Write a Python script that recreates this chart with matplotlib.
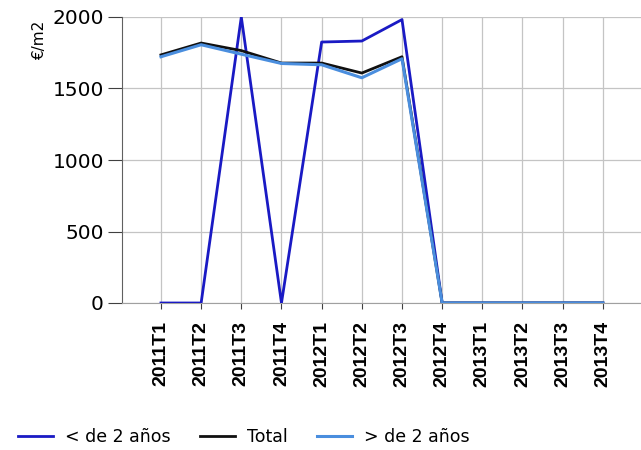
import numpy as np
import matplotlib.pyplot as plt

quarters = ['2011T1', '2011T2', '2011T3', '2011T4', '2012T1', '2012T2',
            '2012T3', '2012T4', '2013T1', '2013T2', '2013T3', '2013T4']
menos_2 = [0, 0, 2000, 0, 1825, 1832, 1982, 0, 0, 0, 0, 0]
total = [1735, 1818, 1765, 1678, 1678, 1608, 1722, 0, 0, 0, 0, 0]
mas_2 = [1722, 1806, 1740, 1675, 1666, 1575, 1708, 0, 0, 0, 0, 0]

fig = plt.figure(figsize=(6.41, 4.5), dpi=100)
ax = fig.add_axes([122 / 641, 1 - 303 / 450, (643 - 122) / 641, (303 - 17) / 450])

x = np.arange(len(quarters))
ax.plot(x, menos_2, color='#1a1ac4', lw=2.0, label='< de 2 años', zorder=3)
ax.plot(x, total, color='#101010', lw=2.0, label='Total', zorder=4)
ax.plot(x, mas_2, color='#4a8ede', lw=2.2, label='> de 2 años', zorder=5)

ax.set_xlim(-0.97, 12)
ax.set_ylim(0, 2000)
ax.set_yticks([0, 500, 1000, 1500, 2000])
ax.set_xticks(x)
ax.set_xticklabels(quarters, rotation=90, fontsize=14, fontweight='bold',
                   family='Liberation Sans')
ax.tick_params(axis='y', labelsize=14.5, length=10, color='#404040', pad=3)
ax.tick_params(axis='x', length=4, color='#404040', pad=9)
ax.grid(True, color='#c4c4c4', lw=0.9)
ax.set_axisbelow(True)
for side in ['top', 'right']:
    ax.spines[side].set_visible(False)
ax.spines['left'].set_color('#606060')
ax.spines['bottom'].set_color('#a0a0a0')

fig.text(40 / 641, 1 - 40 / 450, '€/m2', rotation=90, fontsize=11,
         ha='center', va='center')

fig.legend(loc='center left', bbox_to_anchor=(0.004, 1 - 437 / 450), ncol=3,
           frameon=False, fontsize=12.5, handlelength=2.0, columnspacing=1.7,
           handletextpad=0.7)

fig.savefig('out.png', dpi=100)
